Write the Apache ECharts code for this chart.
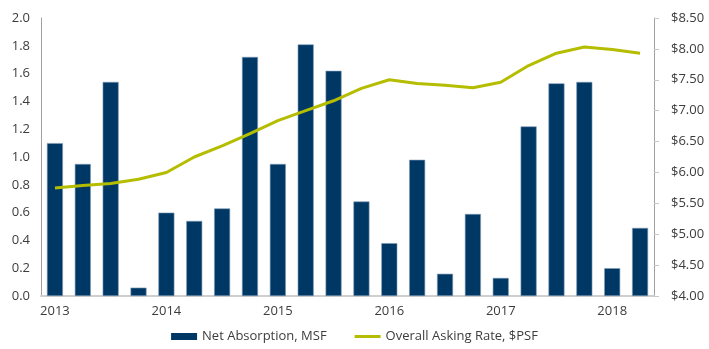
<!DOCTYPE html>
<html>
<head>
    <meta charset="utf-8"/>
    <title>Net Absorption vs Asking Rate</title>
    <script src="https://cdn.jsdelivr.net/npm/echarts@6/dist/echarts.min.js"></script>
    <style>
        html, body { margin: 0; padding: 0; background: #fff; }
        #chart { width: 709px; height: 349px; }
    </style>
</head>
<body>
<div id="chart"></div>
<script>
    // quarterly, 2013 Q1 .. 2018 Q2
    var quarters = ['2013', '2013 Q2', '2013 Q3', '2013 Q4',
        '2014', '2014 Q2', '2014 Q3', '2014 Q4',
        '2015', '2015 Q2', '2015 Q3', '2015 Q4',
        '2016', '2016 Q2', '2016 Q3', '2016 Q4',
        '2017', '2017 Q2', '2017 Q3', '2017 Q4',
        '2018', '2018 Q2'];
    var netAbsorption = [1.10, 0.95, 1.54, 0.06, 0.60, 0.54, 0.63, 1.72, 0.95, 1.81, 1.62, 0.68,
        0.38, 0.98, 0.16, 0.59, 0.13, 1.22, 1.53, 1.54, 0.20, 0.49];
    var askingRate = [5.75, 5.79, 5.82, 5.89, 6.00, 6.25, 6.43, 6.63, 6.84, 7.00, 7.16, 7.36,
        7.50, 7.44, 7.41, 7.37, 7.46, 7.73, 7.93, 8.03, 7.99, 7.93];

    var labelFont = 'Open Sans';
    var myChart = echarts.init(document.getElementById('chart'));
    var option = {
        animation: false,
        textStyle: {fontFamily: labelFont},
        grid: {
            left: 41,
            right: 55,
            top: 18,
            bottom: 53
        },
        legend: {
            bottom: 1,
            left: 'center',
            itemWidth: 26,
            itemHeight: 7,
            itemGap: 28,
            textStyle: {fontSize: 13, color: '#3c3c3c', fontFamily: labelFont},
            data: [
                {name: 'Net Absorption, MSF', icon: 'rect', itemStyle: {borderWidth: 0}},
                {name: 'Overall Asking Rate, $PSF', icon: 'path://M0,0 L26,0 L26,3 L0,3 Z',
                    itemStyle: {color: '#b5bd00', borderWidth: 0}}
            ]
        },
        xAxis: {
            type: 'category',
            data: quarters,
            axisLine: {lineStyle: {color: '#cfcfcf', width: 2}},
            axisTick: {show: false},
            axisLabel: {
                interval: 3,
                margin: 9,
                fontSize: 13,
                color: '#3c3c3c',
                formatter: function (v) { return v.substring(0, 4); }
            }
        },
        yAxis: [{
            type: 'value',
            min: 0,
            max: 2,
            interval: 0.2,
            splitLine: {show: false},
            axisLine: {show: true, lineStyle: {color: '#a0a0a0'}},
            axisTick: {show: false},
            axisLabel: {
                margin: 11,
                fontSize: 13,
                color: '#3c3c3c',
                formatter: function (v) { return v.toFixed(1); }
            }
        }, {
            type: 'value',
            min: 4,
            max: 8.5,
            interval: 0.5,
            position: 'right',
            splitLine: {show: false},
            axisLine: {show: true, lineStyle: {color: '#a0a0a0'}},
            axisTick: {show: true, length: 5, lineStyle: {color: '#c8c8c8'}},
            axisLabel: {
                margin: 17,
                fontSize: 13,
                color: '#3c3c3c',
                formatter: function (v) { return '$' + v.toFixed(2); }
            }
        }],
        series: [{
            name: 'Net Absorption, MSF',
            type: 'bar',
            barWidth: 16,
            itemStyle: {color: '#003865', borderColor: '#7d9ab5', borderWidth: 0.6},
            data: netAbsorption
        }, {
            name: 'Overall Asking Rate, $PSF',
            type: 'line',
            yAxisIndex: 1,
            showSymbol: false,
            symbol: 'none',
            lineStyle: {color: '#b5bd00', width: 3},
            itemStyle: {color: '#b5bd00'},
            data: askingRate
        }]
    };
    myChart.setOption(option);
</script>
</body>
</html>
